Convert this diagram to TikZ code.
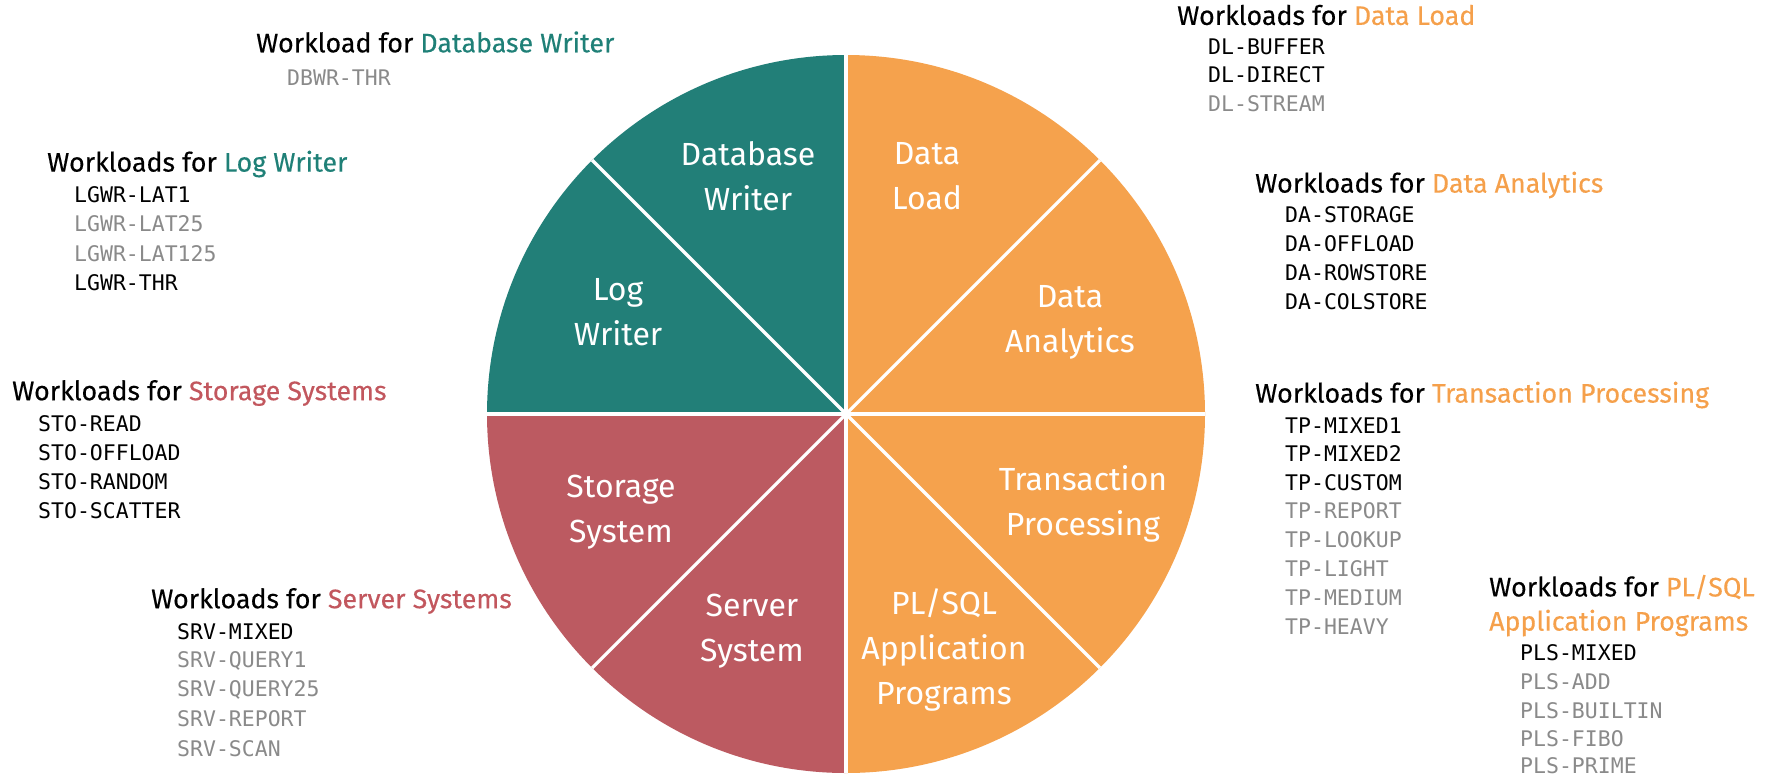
\documentclass[tikz,border=0pt]{standalone}
\usepackage{fontspec}
\usetikzlibrary{calc}
\setmainfont{Fira Sans}
\newfontfamily\headfont{Fira Sans}[FakeBold=0.35]
\newfontfamily\wmono{DejaVu Sans Mono}
\definecolor{tealc}{RGB}{34,127,120}
\definecolor{orangec}{RGB}{245,162,77}
\definecolor{redc}{RGB}{188,90,97}
\definecolor{tealt}{RGB}{31,128,119}
\definecolor{oranget}{RGB}{245,160,75}
\definecolor{redt}{RGB}{194,87,94}
\definecolor{grayt}{RGB}{138,138,138}
\tikzset{
  head/.style={anchor=west,inner sep=0pt,font=\headfont\fontsize{26.8}{30}\selectfont},
  item/.style={anchor=west,inner sep=0pt,font=\wmono\fontsize{21.5}{26}\selectfont},
  on/.style={item,text=black},
  off/.style={item,text=grayt},
  seclabel/.style={align=center,inner sep=0pt,text=white,font=\fontsize{32}{45}\selectfont},
  divider/.style={white,line width=3.2pt}
}
\begin{document}
\begin{tikzpicture}[x=1pt,y=-1pt]
\useasboundingbox (0,0) rectangle (1769,777);
\coordinate (c) at (846,414);
\begin{scope}
\clip (c) circle[radius=359];
\fill[tealc] (c) -- ++(-180:600) -- ++(0,-600) -- ++(600,0) -- cycle;
\fill[redc] (c) -- ++(180:600) -- ++(0,600) -- ++(600,0) -- cycle;
\fill[tealc] ($(c)+(-400,-1)$) rectangle ($(c)+(0,2)$);
\fill[orangec] (c) -- ++(-90:600) -- ++(600,0) -- ++(0,1200) -- ++(-600,0) -- cycle;
\end{scope}
\foreach \a in {0,45,...,315} \draw[divider] (c) -- ++(\a:359);
% sector labels
\node[seclabel] (dbw) at (748,176) {Database\\Writer};
\node[seclabel] (dl) at (927,176) {Data\\Load};
\node[seclabel] (lgw) at (618,312) {Log\\Writer};
\node[seclabel] (da) at (1070,322) {Data\\Analytics};
\node[seclabel] (tp) at (1083,504) {Transaction\\Processing};
\node[seclabel] (sto) at (621,512) {Storage\\System};
\node[seclabel] (srv) at (752,631) {Server\\System};
\node[seclabel] (pls) at (944,650) {PL/SQL\\Application\\Programs};
% Database writer
\node[head] (hdbw) at (256,42) {Workload for \textcolor{tealt}{Database Writer}};
\node[off] (dbwr) at (287,78) {DBWR-THR};
% Log writer
\node[head] (hlgw) at (47,164) {Workloads for \textcolor{tealt}{Log Writer}};
\node[on] (lg1) at (74,195) {LGWR-LAT1};
\node[off] (lg2) at (74,224) {LGWR-LAT25};
\node[off] (lg3) at (74,254) {LGWR-LAT125};
\node[on] (lg4) at (74,283) {LGWR-THR};
% Storage
\node[head] (hsto) at (12,393) {Workloads for \textcolor{redt}{Storage Systems}};
\node[on] (st1) at (38,424) {STO-READ};
\node[on] (st2) at (38,453) {STO-OFFLOAD};
\node[on] (st3) at (38,482) {STO-RANDOM};
\node[on] (st4) at (38,511) {STO-SCATTER};
% Server
\node[head] (hsrv) at (151,601) {Workloads for \textcolor{redt}{Server Systems}};
\node[on] (sv1) at (177,632) {SRV-MIXED};
\node[off] (sv2) at (177,661) {SRV-QUERY1};
\node[off] (sv3) at (177,690) {SRV-QUERY25};
\node[off] (sv4) at (177,719) {SRV-REPORT};
\node[off] (sv5) at (177,749) {SRV-SCAN};
% Data load
\node[head] (hdl) at (1177,15) {Workloads for \textcolor{oranget}{Data Load}};
\node[on] (dl1) at (1208,47) {DL-BUFFER};
\node[on] (dl2) at (1208,75) {DL-DIRECT};
\node[off] (dl3) at (1208,104) {DL-STREAM};
% Data analytics
\node[head] (hda) at (1255,185) {Workloads for \textcolor{oranget}{Data Analytics}};
\node[on] (da1) at (1285,215) {DA-STORAGE};
\node[on] (da2) at (1285,244) {DA-OFFLOAD};
\node[on] (da3) at (1285,273) {DA-ROWSTORE};
\node[on] (da4) at (1285,302) {DA-COLSTORE};
% Transaction processing
\node[head] (htp) at (1255,395) {Workloads for \textcolor{oranget}{Transaction Processing}};
\node[on] (tp1) at (1285,426) {TP-MIXED1};
\node[on] (tp2) at (1285,454) {TP-MIXED2};
\node[on] (tp3) at (1285,483) {TP-CUSTOM};
\node[off] (tp4) at (1285,511) {TP-REPORT};
\node[off] (tp5) at (1285,540) {TP-LOOKUP};
\node[off] (tp6) at (1285,569) {TP-LIGHT};
\node[off] (tp7) at (1285,598) {TP-MEDIUM};
\node[off] (tp8) at (1285,627) {TP-HEAVY};
% PL/SQL
\node[head] (hpls) at (1489,587) {Workloads for \textcolor{oranget}{PL/SQL}};
\node[head,text=oranget] (hpls2) at (1489,623) {Application Programs};
\node[on] (pl1) at (1520,653) {PLS-MIXED};
\node[off] (pl2) at (1520,682) {PLS-ADD};
\node[off] (pl3) at (1520,711) {PLS-BUILTIN};
\node[off] (pl4) at (1520,739) {PLS-FIBO};
\node[off] (pl5) at (1520,766) {PLS-PRIME};
\end{tikzpicture}
\end{document}
